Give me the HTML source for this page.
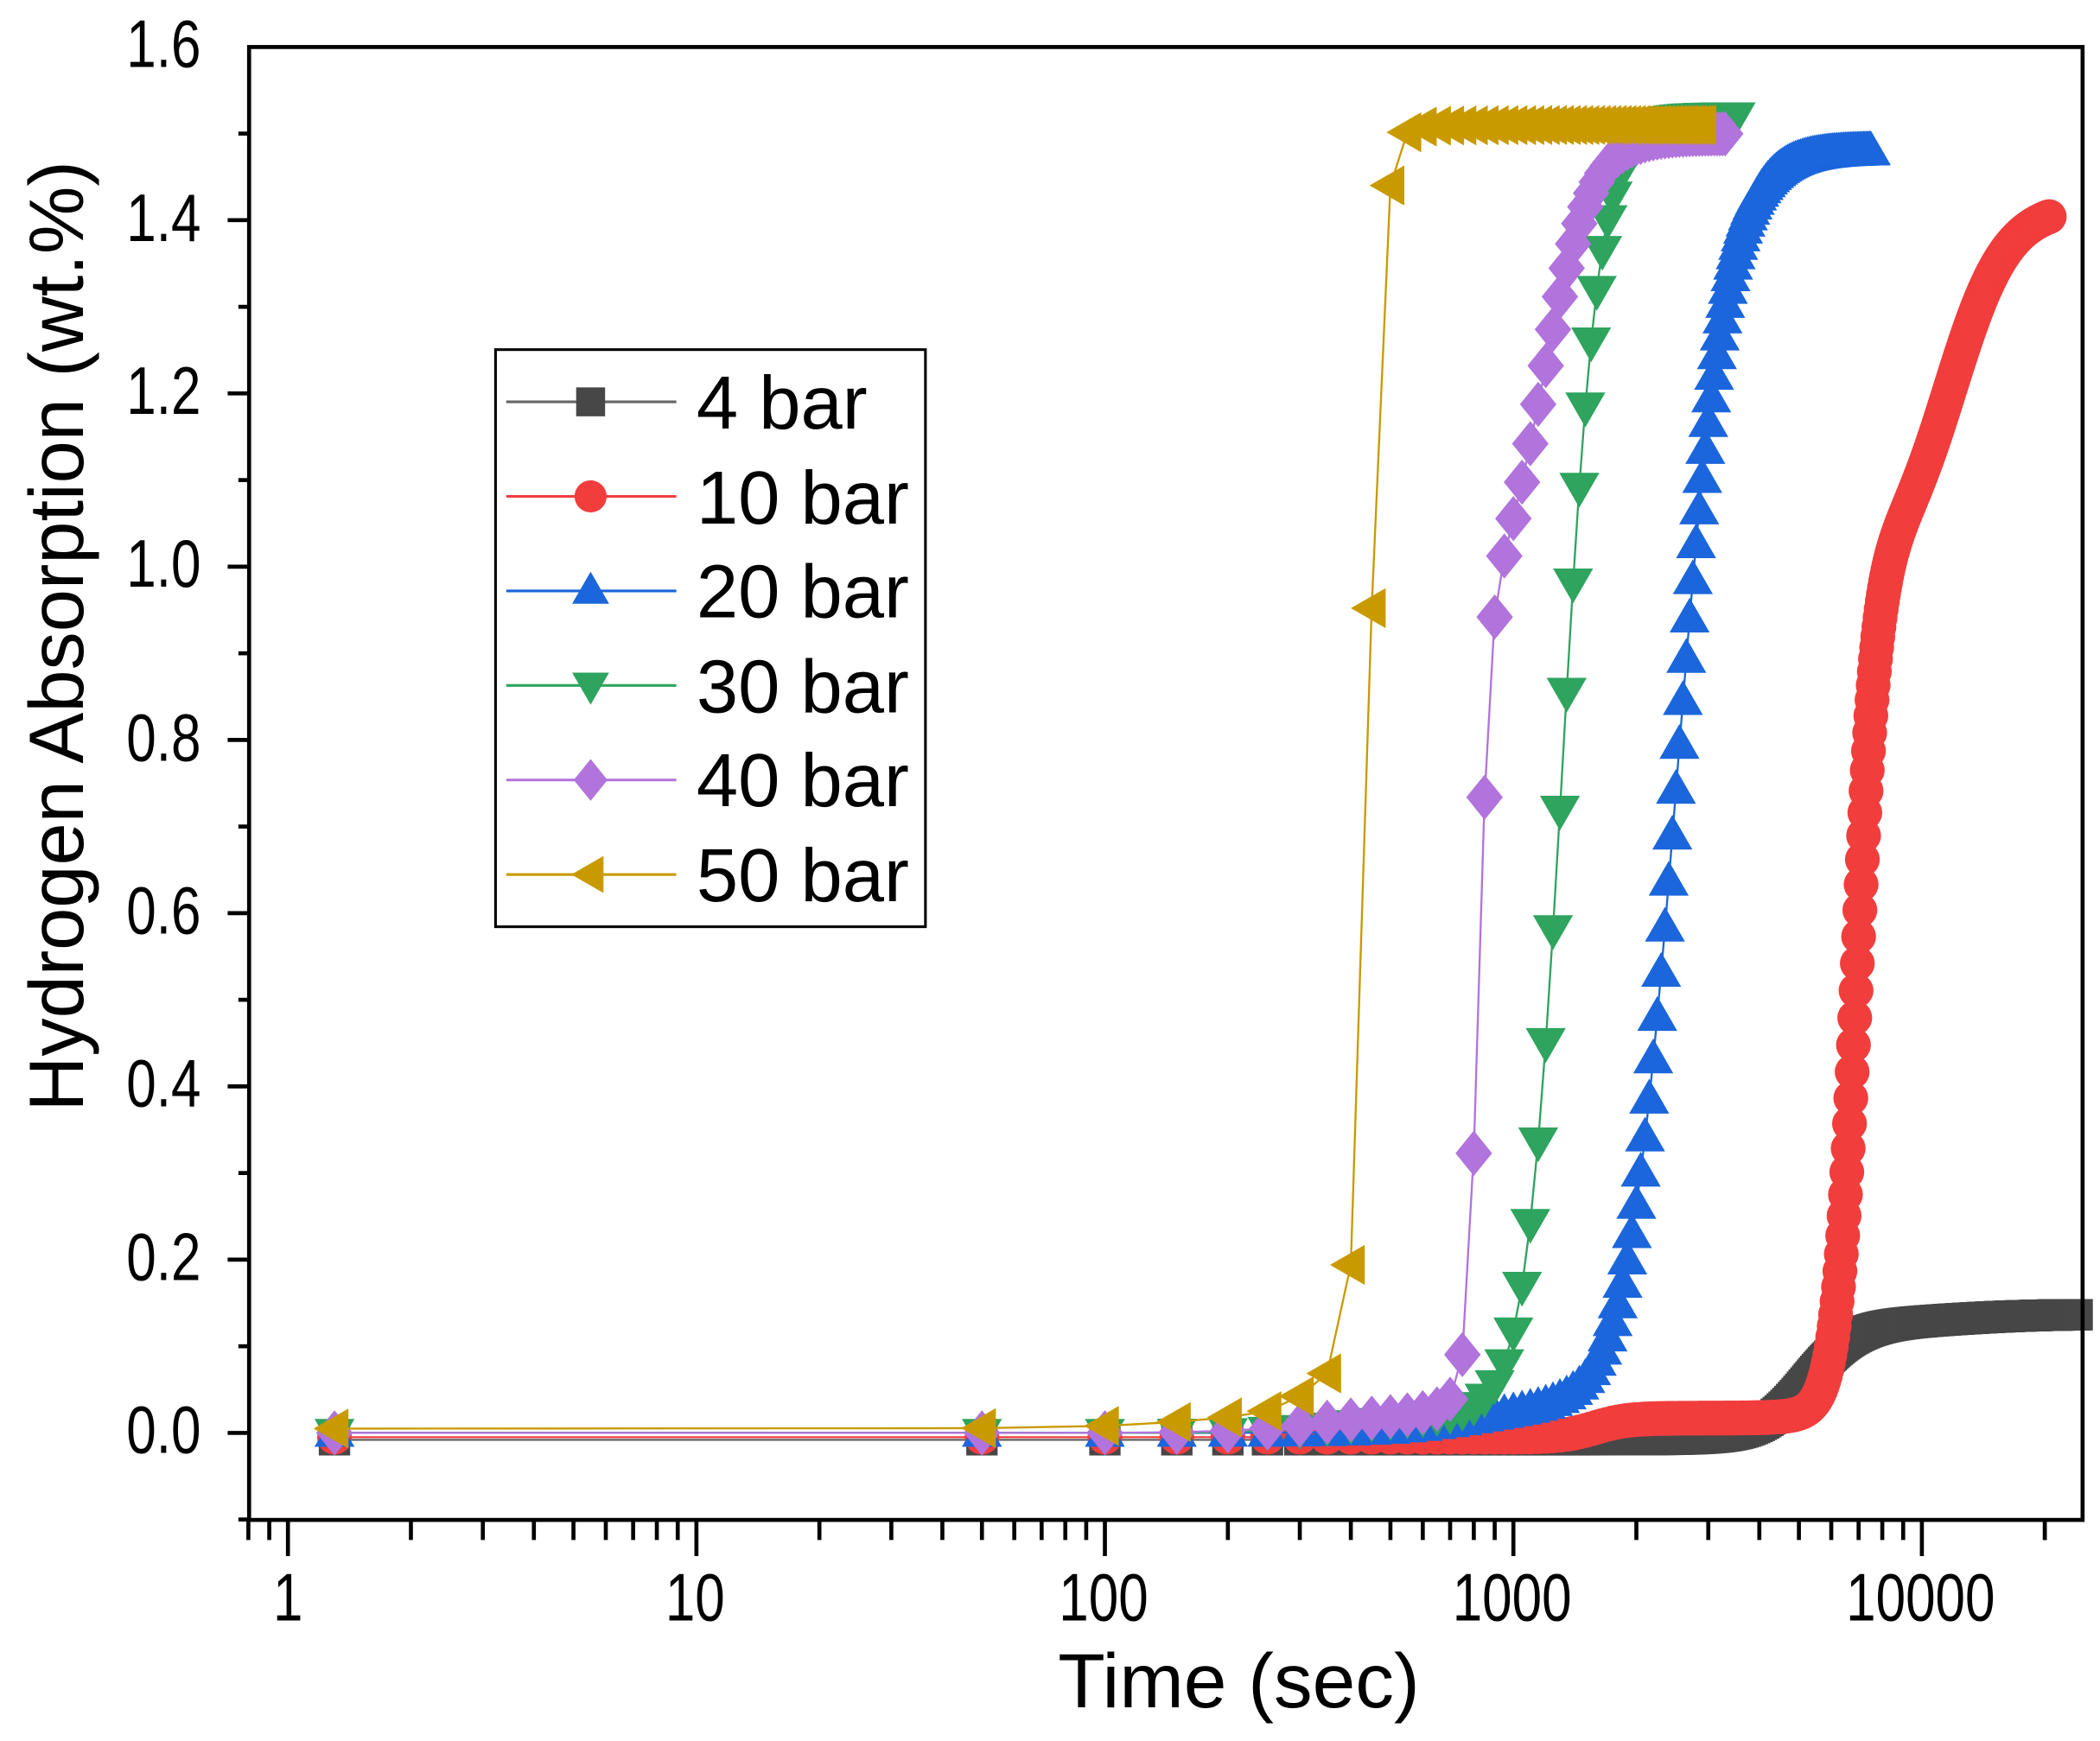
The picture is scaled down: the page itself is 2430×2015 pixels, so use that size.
<!DOCTYPE html>
<html><head><meta charset="utf-8"><style>
html,body{margin:0;padding:0;background:#fff;}
svg{display:block;}
text{font-family:"Liberation Sans",sans-serif;fill:#000;}
</style></head><body>
<svg id="c" width="2430" height="2015" viewBox="0 0 1568 1300" xmlns="http://www.w3.org/2000/svg">
<rect width="1568" height="1300" fill="#fff"/>
<g id="data"></g>
<rect x="186" y="35" width="1369" height="1100" fill="none" stroke="#000" stroke-width="3"/>
<g id="ticks" stroke="#000" stroke-width="3"></g>
<g font-size="40" text-anchor="end">
<g transform="translate(0,1085) scale(1,1.25)"><text x="150" y="0">0.0</text></g>
<g transform="translate(0,956) scale(1,1.25)"><text x="150" y="0">0.2</text></g>
<g transform="translate(0,826) scale(1,1.25)"><text x="150" y="0">0.4</text></g>
<g transform="translate(0,697) scale(1,1.25)"><text x="150" y="0">0.6</text></g>
<g transform="translate(0,568) scale(1,1.25)"><text x="150" y="0">0.8</text></g>
<g transform="translate(0,438) scale(1,1.25)"><text x="150" y="0">1.0</text></g>
<g transform="translate(0,309) scale(1,1.25)"><text x="150" y="0">1.2</text></g>
<g transform="translate(0,180) scale(1,1.25)"><text x="150" y="0">1.4</text></g>
<g transform="translate(0,50) scale(1,1.25)"><text x="150" y="0">1.6</text></g>
</g>
<g font-size="40" text-anchor="middle">
<g transform="translate(0,1210) scale(1,1.25)">
<text x="215" y="0">1</text>
<text x="519" y="0">10</text>
<text x="824" y="0">100</text>
<text x="1129" y="0">1000</text>
<text x="1434" y="0">10000</text>
</g></g>
<g transform="translate(925,1275) scale(1,1.1)"><text x="0" y="0" font-size="52" text-anchor="middle" textLength="270" lengthAdjust="spacingAndGlyphs">Time (sec)</text></g>
<g transform="translate(62,475) rotate(-90) scale(1,1.1)"><text x="0" y="0" font-size="52" text-anchor="middle" textLength="710" lengthAdjust="spacingAndGlyphs">Hydrogen Absorption (wt.%)</text></g>
<rect x="370" y="261" width="321" height="431" fill="#fff" stroke="#000" stroke-width="2"/>
<g id="legend"></g>
<g font-size="56">
<text x="520" y="320">4 bar</text>
<text x="520" y="391">10 bar</text>
<text x="520" y="461">20 bar</text>
<text x="520" y="532">30 bar</text>
<text x="520" y="602">40 bar</text>
<text x="520" y="673">50 bar</text>
</g>
</svg>
<script>
var NS="http://www.w3.org/2000/svg";
function X(t){return 215+305*Math.log10(t);}
function Y(v){return 1070-v*646.9;}
function el(tag,a,p){var e=document.createElementNS(NS,tag);for(var k in a)e.setAttribute(k,a[k]);p.appendChild(e);return e;}
var tk=document.getElementById('ticks');
for(var i=0;i<=16;i++){var v=-0.1+i*0.1; if(v>1.6001)break;var y=Y(v);var major=Math.abs(Math.round(v*10)%2)==0;
 el('line',{x1:major?170:178,y1:y,x2:186,y2:y},tk);}
for(var d=0;d<=4;d++){for(var m=1;m<=9;m++){var t=m*Math.pow(10,d);var x=X(t);if(x>1555)break;
 el('line',{x1:x,y1:1135,x2:x,y2:m==1?1162:1150},tk);}}
[0.8,0.9].forEach(function(t){el('line',{x1:X(t),y1:1135,x2:X(t),y2:1150},tk);});
el('line',{x1:X(20000),y1:1135,x2:X(20000),y2:1150},tk);
function L(lt,c,w){return 1/(1+Math.exp(-(lt-c)/w));}
function marker(type,x,y,col,g,r){
 r=r||13;
 if(type=='s')el('rect',{x:x-r*0.9,y:y-r*0.9,width:1.8*r,height:1.8*r,fill:col},g);
 else if(type=='c')el('circle',{cx:x,cy:y,r:r,fill:col},g);
 else if(type=='u')el('polygon',{points:(x)+','+(y-r*1.2)+' '+(x-r*1.15)+','+(y+r*0.8)+' '+(x+r*1.15)+','+(y+r*0.8),fill:col},g);
 else if(type=='d')el('polygon',{points:(x)+','+(y+r*1.2)+' '+(x-r*1.15)+','+(y-r*0.8)+' '+(x+r*1.15)+','+(y-r*0.8),fill:col},g);
 else if(type=='m')el('polygon',{points:(x)+','+(y-r*1.3)+' '+(x+r*1.05)+','+(y)+' '+(x)+','+(y+r*1.3)+' '+(x-r*1.05)+','+(y),fill:col},g);
 else if(type=='l')el('polygon',{points:(x-r*1.2)+','+(y)+' '+(x+r*0.8)+','+(y-r*1.15)+' '+(x+r*0.8)+','+(y+r*1.15),fill:col},g);
}
var series=[
 {col:'#474747',lc:'#666',m:'s',end:24000,f:function(t,lt){return -0.008+0.135*L(lt,3.72,0.06)+0.01*L(lt,4.1,0.1);}},
 {col:'#f23d3d',lc:'#f23d3d',m:'c',end:20500,f:function(t,lt){return -0.005+0.022*L(lt,3.2,0.04)+0.98*L(lt,3.84,0.025)+0.42*L(lt,4.07,0.07);}},
 {col:'#1b66dc',lc:'#1b66dc',m:'u',end:7500,f:function(t,lt){return 0.03*L(lt,2.9,0.1)+1.45*L(lt,3.40,0.06);}},
 {col:'#2ea45e',lc:'#2ea45e',m:'d',end:3500,f:function(t,lt){return 0.02*L(lt,2.6,0.1)+1.5*L(lt,3.12,0.045);}},
 {col:'#b173dc',lc:'#b173dc',m:'m',end:3300,f:function(t,lt){return 0.02*L(lt,2.5,0.1)+0.9*L(lt,2.915,0.014)+0.58*L(lt,3.07,0.06);}},
 {col:'#c99a00',lc:'#c99a00',m:'l',end:2900,f:function(t,lt){return 0.005+0.025*L(lt,2.3,0.15)+0.05*L(lt,2.5,0.04)+1.43*L(lt,2.645,0.018);}}
];
var dg=document.getElementById('data');
series.forEach(function(s){
 var ts=[1.3];for(var t=50;t<=s.end;t+=50)ts.push(t);
 var pts=[],g=el('g',{},dg);
 ts.forEach(function(t){var v=s.f(t,Math.log10(t));pts.push([X(t),Y(v)]);});
 el('polyline',{points:pts.map(function(p){return p[0].toFixed(1)+','+p[1].toFixed(1);}).join(' '),fill:'none',stroke:s.lc,'stroke-width':1.5},g);
 pts.forEach(function(p){marker(s.m,p[0],p[1],s.col,g);});
});
var lg=document.getElementById('legend');
series.forEach(function(s,i){var y=300+i*70.6;
 el('line',{x1:378,y1:y,x2:505,y2:y,stroke:s.lc,'stroke-width':2},lg);
 marker(s.m,441,y,s.col,lg,12);});
</script>
</body></html>
